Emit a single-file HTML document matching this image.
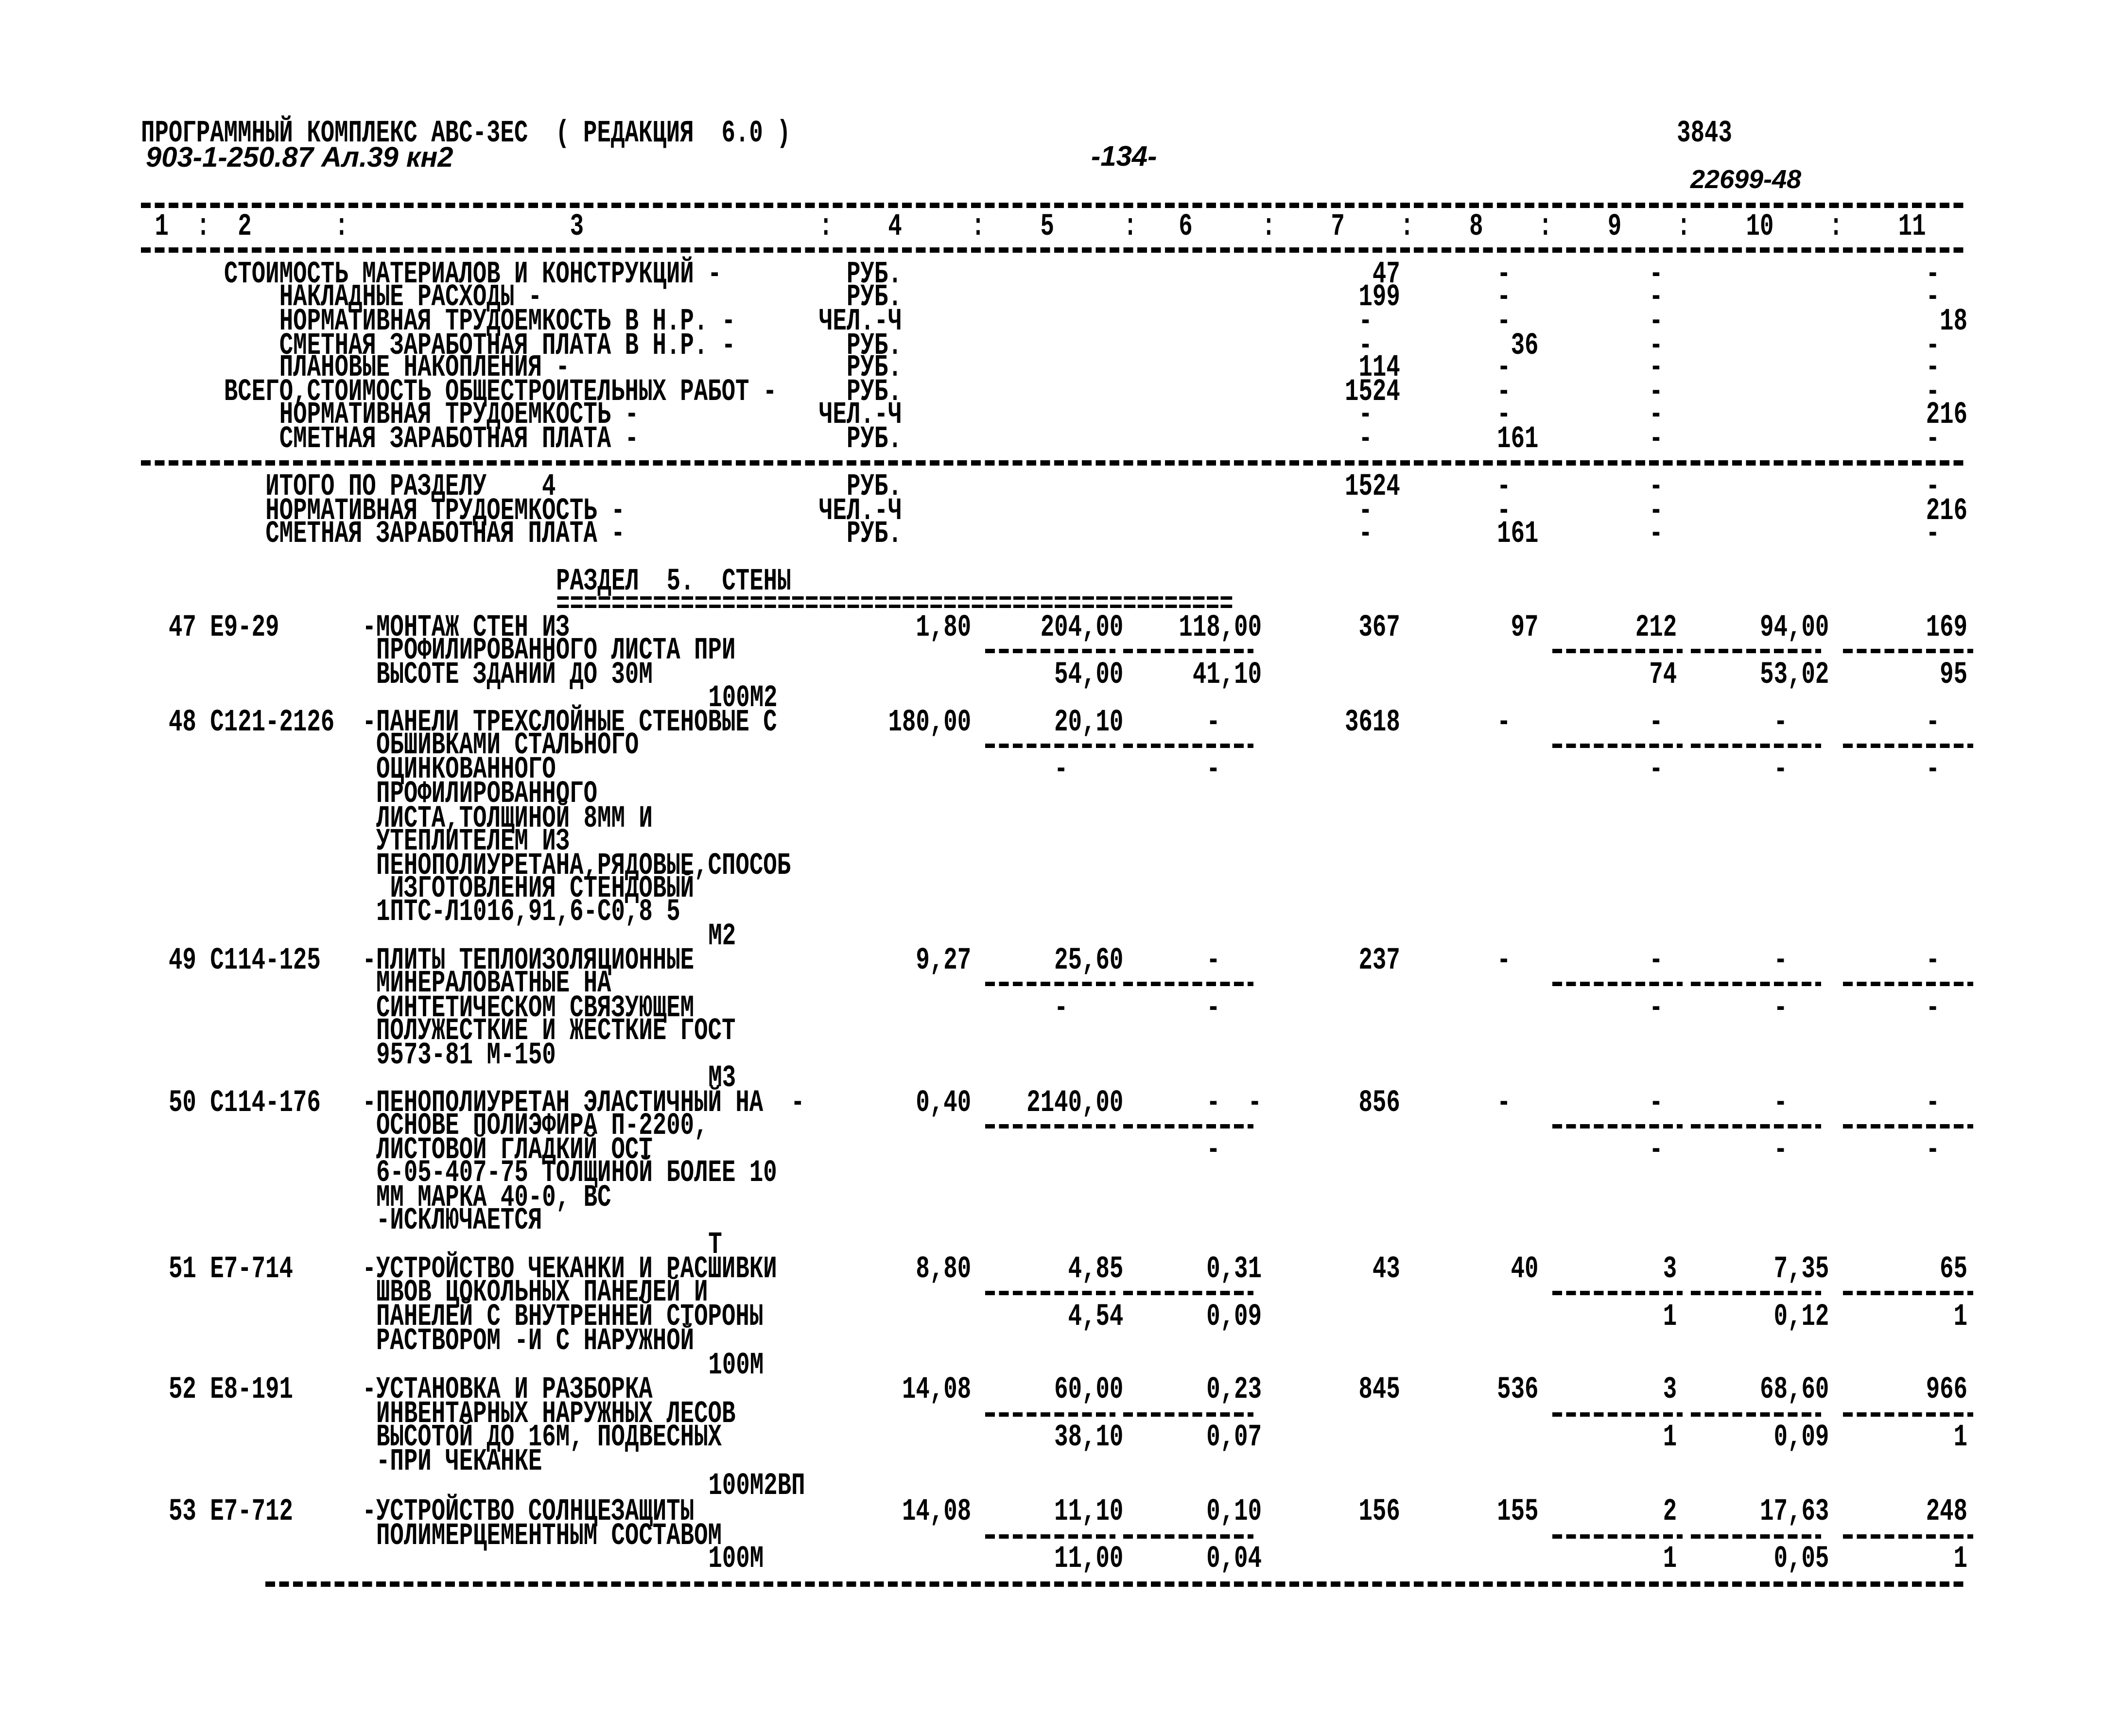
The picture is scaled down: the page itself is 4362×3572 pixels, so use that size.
<!DOCTYPE html>
<html><head><meta charset="utf-8"><style>
html,body{margin:0;padding:0;background:#fff;}
body{width:4362px;height:3572px;position:relative;overflow:hidden;}
.t,.r{position:absolute;top:calc(var(--y)*2.786px - 24px);font:bold 47.4px/48px "Liberation Mono","DejaVu Sans Mono",monospace;color:#000;white-space:pre;}
.t{left:calc(290px + var(--c)*28.47px);transform:scaleY(1.35);transform-origin:0 50%;}
.r{left:calc(290px + (var(--e) + 1)*28.47px);transform:translateX(-100%) scaleY(1.35);transform-origin:100% 50%;}
.d{position:absolute;top:calc(var(--y)*2.786px - 6px);left:calc(290px + var(--c)*28.47px);width:calc(var(--w)*28.47px);height:11px;background:repeating-linear-gradient(90deg,#000 0 20px,transparent 20px 28.47px);}
.s{position:absolute;top:calc(var(--y)*2.786px - 5px);left:calc(290px + var(--c)*28.47px);width:268px;height:9px;background:repeating-linear-gradient(90deg,#000 0 20px,transparent 20px 28.47px);}
.h{position:absolute;font:italic bold 58px "Liberation Sans",sans-serif;color:#000;white-space:pre;}
</style></head><body>
<span class="t" style="--y:99;--c:0">ПРОГРАММНЫЙ КОМПЛЕКС АВС-3ЕС  ( РЕДАКЦИЯ  6.0 )</span>
<span class="h" style="left:300px;top:290px">903-1-250.87 Ал.39 кн2</span>
<span class="h" style="left:2245px;top:288px">-134-</span>
<span class="t" style="--y:99;--c:111">3843</span>
<span class="h" style="left:3478px;top:338px;font-size:54px">22699-48</span>

<div class="d" style="--y:152;--c:0;--w:132"></div>
<span class="t" style="--y:168;--c:1">1</span><span class="t" style="--y:168;--c:4">:</span><span class="t" style="--y:168;--c:7">2</span><span class="t" style="--y:168;--c:14">:</span><span class="t" style="--y:168;--c:31">3</span><span class="t" style="--y:168;--c:49">:</span><span class="t" style="--y:168;--c:54">4</span><span class="t" style="--y:168;--c:60">:</span><span class="t" style="--y:168;--c:65">5</span><span class="t" style="--y:168;--c:71">:</span><span class="t" style="--y:168;--c:75">6</span><span class="t" style="--y:168;--c:81">:</span><span class="t" style="--y:168;--c:86">7</span><span class="t" style="--y:168;--c:91">:</span><span class="t" style="--y:168;--c:96">8</span><span class="t" style="--y:168;--c:101">:</span><span class="t" style="--y:168;--c:106">9</span><span class="t" style="--y:168;--c:111">:</span><span class="t" style="--y:168;--c:116">10</span><span class="t" style="--y:168;--c:122">:</span><span class="t" style="--y:168;--c:127">11</span>
<div class="d" style="--y:185;--c:0;--w:132"></div>

<span class="t" style="--y:203;--c:6">СТОИМОСТЬ МАТЕРИАЛОВ И КОНСТРУКЦИЙ -</span><span class="t" style="--y:203;--c:51">РУБ.</span><span class="r" style="--y:203;--e:90">47</span><span class="t" style="--y:203;--c:98">-</span><span class="t" style="--y:203;--c:109">-</span><span class="t" style="--y:203;--c:129">-</span>
<span class="t" style="--y:220;--c:10">НАКЛАДНЫЕ РАСХОДЫ -</span><span class="t" style="--y:220;--c:51">РУБ.</span><span class="r" style="--y:220;--e:90">199</span><span class="t" style="--y:220;--c:98">-</span><span class="t" style="--y:220;--c:109">-</span><span class="t" style="--y:220;--c:129">-</span>
<span class="t" style="--y:238;--c:10">НОРМАТИВНАЯ ТРУДОЕМКОСТЬ В Н.Р. -</span><span class="t" style="--y:238;--c:49">ЧЕЛ.-Ч</span><span class="t" style="--y:238;--c:88">-</span><span class="t" style="--y:238;--c:98">-</span><span class="t" style="--y:238;--c:109">-</span><span class="r" style="--y:238;--e:131">18</span>
<span class="t" style="--y:256;--c:10">СМЕТНАЯ ЗАРАБОТНАЯ ПЛАТА В Н.Р. -</span><span class="t" style="--y:256;--c:51">РУБ.</span><span class="t" style="--y:256;--c:88">-</span><span class="r" style="--y:256;--e:100">36</span><span class="t" style="--y:256;--c:109">-</span><span class="t" style="--y:256;--c:129">-</span>
<span class="t" style="--y:272;--c:10">ПЛАНОВЫЕ НАКОПЛЕНИЯ -</span><span class="t" style="--y:272;--c:51">РУБ.</span><span class="r" style="--y:272;--e:90">114</span><span class="t" style="--y:272;--c:98">-</span><span class="t" style="--y:272;--c:109">-</span><span class="t" style="--y:272;--c:129">-</span>
<span class="t" style="--y:290;--c:6">ВСЕГО,СТОИМОСТЬ ОБЩЕСТРОИТЕЛЬНЫХ РАБОТ -</span><span class="t" style="--y:290;--c:51">РУБ.</span><span class="r" style="--y:290;--e:90">1524</span><span class="t" style="--y:290;--c:98">-</span><span class="t" style="--y:290;--c:109">-</span><span class="t" style="--y:290;--c:129">-</span>
<span class="t" style="--y:307;--c:10">НОРМАТИВНАЯ ТРУДОЕМКОСТЬ -</span><span class="t" style="--y:307;--c:49">ЧЕЛ.-Ч</span><span class="t" style="--y:307;--c:88">-</span><span class="t" style="--y:307;--c:98">-</span><span class="t" style="--y:307;--c:109">-</span><span class="r" style="--y:307;--e:131">216</span>
<span class="t" style="--y:325;--c:10">СМЕТНАЯ ЗАРАБОТНАЯ ПЛАТА -</span><span class="t" style="--y:325;--c:51">РУБ.</span><span class="t" style="--y:325;--c:88">-</span><span class="r" style="--y:325;--e:100">161</span><span class="t" style="--y:325;--c:109">-</span><span class="t" style="--y:325;--c:129">-</span>
<div class="d" style="--y:342;--c:0;--w:132"></div>
<span class="t" style="--y:360;--c:9">ИТОГО ПО РАЗДЕЛУ    4</span><span class="t" style="--y:360;--c:51">РУБ.</span><span class="r" style="--y:360;--e:90">1524</span><span class="t" style="--y:360;--c:98">-</span><span class="t" style="--y:360;--c:109">-</span><span class="t" style="--y:360;--c:129">-</span>
<span class="t" style="--y:378;--c:9">НОРМАТИВНАЯ ТРУДОЕМКОСТЬ -</span><span class="t" style="--y:378;--c:49">ЧЕЛ.-Ч</span><span class="t" style="--y:378;--c:88">-</span><span class="t" style="--y:378;--c:98">-</span><span class="t" style="--y:378;--c:109">-</span><span class="r" style="--y:378;--e:131">216</span>
<span class="t" style="--y:395;--c:9">СМЕТНАЯ ЗАРАБОТНАЯ ПЛАТА -</span><span class="t" style="--y:395;--c:51">РУБ.</span><span class="t" style="--y:395;--c:88">-</span><span class="r" style="--y:395;--e:100">161</span><span class="t" style="--y:395;--c:109">-</span><span class="t" style="--y:395;--c:129">-</span>

<span class="t" style="--y:430;--c:30">РАЗДЕЛ  5.  СТЕНЫ</span>
<span class="t" style="--y:447;--c:30">=================================================</span>

<span class="t" style="--y:464;--c:2">47 Е9-29</span><span class="t" style="--y:464;--c:16">-МОНТАЖ СТЕН ИЗ</span><span class="r" style="--y:464;--e:59">1,80</span><span class="r" style="--y:464;--e:70">204,00</span><span class="r" style="--y:464;--e:80">118,00</span><span class="r" style="--y:464;--e:90">367</span><span class="r" style="--y:464;--e:100">97</span><span class="r" style="--y:464;--e:110">212</span><span class="r" style="--y:464;--e:121">94,00</span><span class="r" style="--y:464;--e:131">169</span>
<span class="t" style="--y:481;--c:17">ПРОФИЛИРОВАННОГО ЛИСТА ПРИ</span>
<div class="s" style="--y:481;--c:61"></div><div class="s" style="--y:481;--c:71"></div><div class="s" style="--y:481;--c:102"></div><div class="s" style="--y:481;--c:112"></div><div class="s" style="--y:481;--c:123"></div>
<span class="t" style="--y:499;--c:17">ВЫСОТЕ ЗДАНИЙ ДО 30М</span><span class="r" style="--y:499;--e:70">54,00</span><span class="r" style="--y:499;--e:80">41,10</span><span class="r" style="--y:499;--e:110">74</span><span class="r" style="--y:499;--e:121">53,02</span><span class="r" style="--y:499;--e:131">95</span>
<span class="r" style="--y:516;--e:45">100М2</span>

<span class="t" style="--y:534;--c:2">48 С121-2126</span><span class="t" style="--y:534;--c:16">-ПАНЕЛИ ТРЕХСЛОЙНЫЕ СТЕНОВЫЕ С</span><span class="r" style="--y:534;--e:59">180,00</span><span class="r" style="--y:534;--e:70">20,10</span><span class="t" style="--y:534;--c:77">-</span><span class="r" style="--y:534;--e:90">3618</span><span class="t" style="--y:534;--c:98">-</span><span class="t" style="--y:534;--c:109">-</span><span class="t" style="--y:534;--c:118">-</span><span class="t" style="--y:534;--c:129">-</span>
<span class="t" style="--y:551;--c:17">ОБШИВКАМИ СТАЛЬНОГО</span>
<div class="s" style="--y:551;--c:61"></div><div class="s" style="--y:551;--c:71"></div><div class="s" style="--y:551;--c:102"></div><div class="s" style="--y:551;--c:112"></div><div class="s" style="--y:551;--c:123"></div>
<span class="t" style="--y:569;--c:17">ОЦИНКОВАННОГО</span><span class="t" style="--y:569;--c:66">-</span><span class="t" style="--y:569;--c:77">-</span><span class="t" style="--y:569;--c:109">-</span><span class="t" style="--y:569;--c:118">-</span><span class="t" style="--y:569;--c:129">-</span>
<span class="t" style="--y:587;--c:17">ПРОФИЛИРОВАННОГО</span>
<span class="t" style="--y:605;--c:17">ЛИСТА,ТОЛЩИНОЙ 8ММ И</span>
<span class="t" style="--y:622;--c:17">УТЕПЛИТЕЛЕМ ИЗ</span>
<span class="t" style="--y:640;--c:17">ПЕНОПОЛИУРЕТАНА,РЯДОВЫЕ,СПОСОБ</span>
<span class="t" style="--y:657;--c:18">ИЗГОТОВЛЕНИЯ СТЕНДОВЫЙ</span>
<span class="t" style="--y:674;--c:17">1ПТС-Л1016,91,6-С0,8 5</span>
<span class="t" style="--y:692;--c:41">М2</span>

<span class="t" style="--y:710;--c:2">49 С114-125</span><span class="t" style="--y:710;--c:16">-ПЛИТЫ ТЕПЛОИЗОЛЯЦИОННЫЕ</span><span class="r" style="--y:710;--e:59">9,27</span><span class="r" style="--y:710;--e:70">25,60</span><span class="t" style="--y:710;--c:77">-</span><span class="r" style="--y:710;--e:90">237</span><span class="t" style="--y:710;--c:98">-</span><span class="t" style="--y:710;--c:109">-</span><span class="t" style="--y:710;--c:118">-</span><span class="t" style="--y:710;--c:129">-</span>
<span class="t" style="--y:727;--c:17">МИНЕРАЛОВАТНЫЕ НА</span>
<div class="s" style="--y:727;--c:61"></div><div class="s" style="--y:727;--c:71"></div><div class="s" style="--y:727;--c:102"></div><div class="s" style="--y:727;--c:112"></div><div class="s" style="--y:727;--c:123"></div>
<span class="t" style="--y:745;--c:17">СИНТЕТИЧЕСКОМ СВЯЗУЮЩЕМ</span><span class="t" style="--y:745;--c:66">-</span><span class="t" style="--y:745;--c:77">-</span><span class="t" style="--y:745;--c:109">-</span><span class="t" style="--y:745;--c:118">-</span><span class="t" style="--y:745;--c:129">-</span>
<span class="t" style="--y:762;--c:17">ПОЛУЖЕСТКИЕ И ЖЕСТКИЕ ГОСТ</span>
<span class="t" style="--y:780;--c:17">9573-81 М-150</span>
<span class="t" style="--y:797;--c:41">М3</span>

<span class="t" style="--y:815;--c:2">50 С114-176</span><span class="t" style="--y:815;--c:16">-ПЕНОПОЛИУРЕТАН ЭЛАСТИЧНЫЙ НА  -</span><span class="r" style="--y:815;--e:59">0,40</span><span class="r" style="--y:815;--e:70">2140,00</span><span class="t" style="--y:815;--c:77">-</span><span class="t" style="--y:815;--c:80">-</span><span class="r" style="--y:815;--e:90">856</span><span class="t" style="--y:815;--c:98">-</span><span class="t" style="--y:815;--c:109">-</span><span class="t" style="--y:815;--c:118">-</span><span class="t" style="--y:815;--c:129">-</span>
<span class="t" style="--y:832;--c:17">ОСНОВЕ ПОЛИЭФИРА П-2200,</span>
<div class="s" style="--y:832;--c:61"></div><div class="s" style="--y:832;--c:71"></div><div class="s" style="--y:832;--c:102"></div><div class="s" style="--y:832;--c:112"></div><div class="s" style="--y:832;--c:123"></div>
<span class="t" style="--y:850;--c:17">ЛИСТОВОЙ ГЛАДКИЙ ОСТ</span><span class="t" style="--y:850;--c:77">-</span><span class="t" style="--y:850;--c:109">-</span><span class="t" style="--y:850;--c:118">-</span><span class="t" style="--y:850;--c:129">-</span>
<span class="t" style="--y:867;--c:17">6-05-407-75 ТОЛЩИНОЙ БОЛЕЕ 10</span>
<span class="t" style="--y:885;--c:17">ММ МАРКА 40-0, ВС</span>
<span class="t" style="--y:902;--c:17">-ИСКЛЮЧАЕТСЯ</span>
<span class="t" style="--y:920;--c:41">Т</span>

<span class="t" style="--y:938;--c:2">51 Е7-714</span><span class="t" style="--y:938;--c:16">-УСТРОЙСТВО ЧЕКАНКИ И РАСШИВКИ</span><span class="r" style="--y:938;--e:59">8,80</span><span class="r" style="--y:938;--e:70">4,85</span><span class="r" style="--y:938;--e:80">0,31</span><span class="r" style="--y:938;--e:90">43</span><span class="r" style="--y:938;--e:100">40</span><span class="r" style="--y:938;--e:110">3</span><span class="r" style="--y:938;--e:121">7,35</span><span class="r" style="--y:938;--e:131">65</span>
<span class="t" style="--y:955;--c:17">ШВОВ ЦОКОЛЬНЫХ ПАНЕЛЕЙ И</span>
<div class="s" style="--y:955;--c:61"></div><div class="s" style="--y:955;--c:71"></div><div class="s" style="--y:955;--c:102"></div><div class="s" style="--y:955;--c:112"></div><div class="s" style="--y:955;--c:123"></div>
<span class="t" style="--y:973;--c:17">ПАНЕЛЕЙ С ВНУТРЕННЕЙ СТОРОНЫ</span><span class="r" style="--y:973;--e:70">4,54</span><span class="r" style="--y:973;--e:80">0,09</span><span class="r" style="--y:973;--e:110">1</span><span class="r" style="--y:973;--e:121">0,12</span><span class="r" style="--y:973;--e:131">1</span>
<span class="t" style="--y:991;--c:17">РАСТВОРОМ -И С НАРУЖНОЙ</span>
<span class="r" style="--y:1009;--e:44">100М</span>

<span class="t" style="--y:1027;--c:2">52 Е8-191</span><span class="t" style="--y:1027;--c:16">-УСТАНОВКА И РАЗБОРКА</span><span class="r" style="--y:1027;--e:59">14,08</span><span class="r" style="--y:1027;--e:70">60,00</span><span class="r" style="--y:1027;--e:80">0,23</span><span class="r" style="--y:1027;--e:90">845</span><span class="r" style="--y:1027;--e:100">536</span><span class="r" style="--y:1027;--e:110">3</span><span class="r" style="--y:1027;--e:121">68,60</span><span class="r" style="--y:1027;--e:131">966</span>
<span class="t" style="--y:1045;--c:17">ИНВЕНТАРНЫХ НАРУЖНЫХ ЛЕСОВ</span>
<div class="s" style="--y:1045;--c:61"></div><div class="s" style="--y:1045;--c:71"></div><div class="s" style="--y:1045;--c:102"></div><div class="s" style="--y:1045;--c:112"></div><div class="s" style="--y:1045;--c:123"></div>
<span class="t" style="--y:1062;--c:17">ВЫСОТОЙ ДО 16М, ПОДВЕСНЫХ</span><span class="r" style="--y:1062;--e:70">38,10</span><span class="r" style="--y:1062;--e:80">0,07</span><span class="r" style="--y:1062;--e:110">1</span><span class="r" style="--y:1062;--e:121">0,09</span><span class="r" style="--y:1062;--e:131">1</span>
<span class="t" style="--y:1080;--c:17">-ПРИ ЧЕКАНКЕ</span>
<span class="r" style="--y:1098;--e:47">100М2ВП</span>

<span class="t" style="--y:1117;--c:2">53 Е7-712</span><span class="t" style="--y:1117;--c:16">-УСТРОЙСТВО СОЛНЦЕЗАЩИТЫ</span><span class="r" style="--y:1117;--e:59">14,08</span><span class="r" style="--y:1117;--e:70">11,10</span><span class="r" style="--y:1117;--e:80">0,10</span><span class="r" style="--y:1117;--e:90">156</span><span class="r" style="--y:1117;--e:100">155</span><span class="r" style="--y:1117;--e:110">2</span><span class="r" style="--y:1117;--e:121">17,63</span><span class="r" style="--y:1117;--e:131">248</span>
<span class="t" style="--y:1135;--c:17">ПОЛИМЕРЦЕМЕНТНЫМ СОСТАВОМ</span>
<div class="s" style="--y:1135;--c:61"></div><div class="s" style="--y:1135;--c:71"></div><div class="s" style="--y:1135;--c:102"></div><div class="s" style="--y:1135;--c:112"></div><div class="s" style="--y:1135;--c:123"></div>
<span class="r" style="--y:1152;--e:44">100М</span><span class="r" style="--y:1152;--e:70">11,00</span><span class="r" style="--y:1152;--e:80">0,04</span><span class="r" style="--y:1152;--e:110">1</span><span class="r" style="--y:1152;--e:121">0,05</span><span class="r" style="--y:1152;--e:131">1</span>
<div class="d" style="--y:1170;--c:9;--w:123"></div>
</body></html>
